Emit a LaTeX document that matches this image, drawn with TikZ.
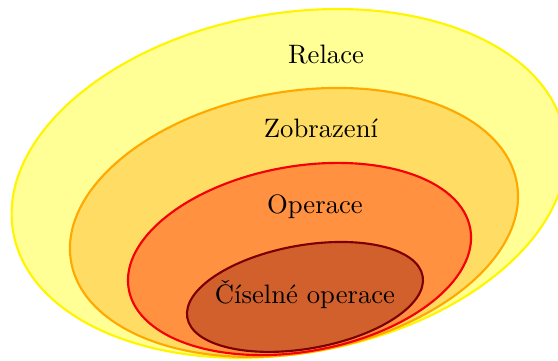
\documentclass[tikz,border=0pt]{standalone}
\usepackage{fontspec}
\usepackage{tikz}
\usetikzlibrary{positioning}

\definecolor{relacefill}{RGB}{255,255,150}
\definecolor{relacedraw}{RGB}{255,245,0}
\definecolor{zobrfill}{RGB}{255,221,100}
\definecolor{zobrdraw}{RGB}{255,168,0}
\definecolor{operfill}{RGB}{255,145,65}
\definecolor{operdraw}{RGB}{245,0,0}
\definecolor{ciselfill}{RGB}{210,96,45}
\definecolor{ciseldraw}{RGB}{125,0,0}

\begin{document}
\begin{tikzpicture}[mnozina/.style={thick}]
\clip (0,0) rectangle (7.355,4.758);
% mnoziny od nejvetsi
\draw[mnozina,fill=relacefill,draw=relacedraw,shift={(3.809,2.340)},rotate=10] (0,0) ellipse (3.691 and 2.241);
\draw[mnozina,fill=zobrfill,draw=zobrdraw,shift={(3.875,1.826)},rotate=10] (0,0) ellipse (2.983 and 1.721);
\draw[mnozina,fill=operfill,draw=operdraw,shift={(3.948,1.344)},rotate=10] (0,0) ellipse (2.286 and 1.221);
\draw[mnozina,fill=ciselfill,draw=ciseldraw,shift={(4.020,0.844)},rotate=10] (0,0) ellipse (1.575 and 0.681);
% popisky
\node (relace) at (4.297,4.033) {Relace};
\node (zobrazeni) at (4.231,3.071) {Zobrazení};
\node (operace) at (4.152,2.030) {Operace};
\node (ciselne) at (4.020,0.870) {Číselné operace};
\end{tikzpicture}
\end{document}
